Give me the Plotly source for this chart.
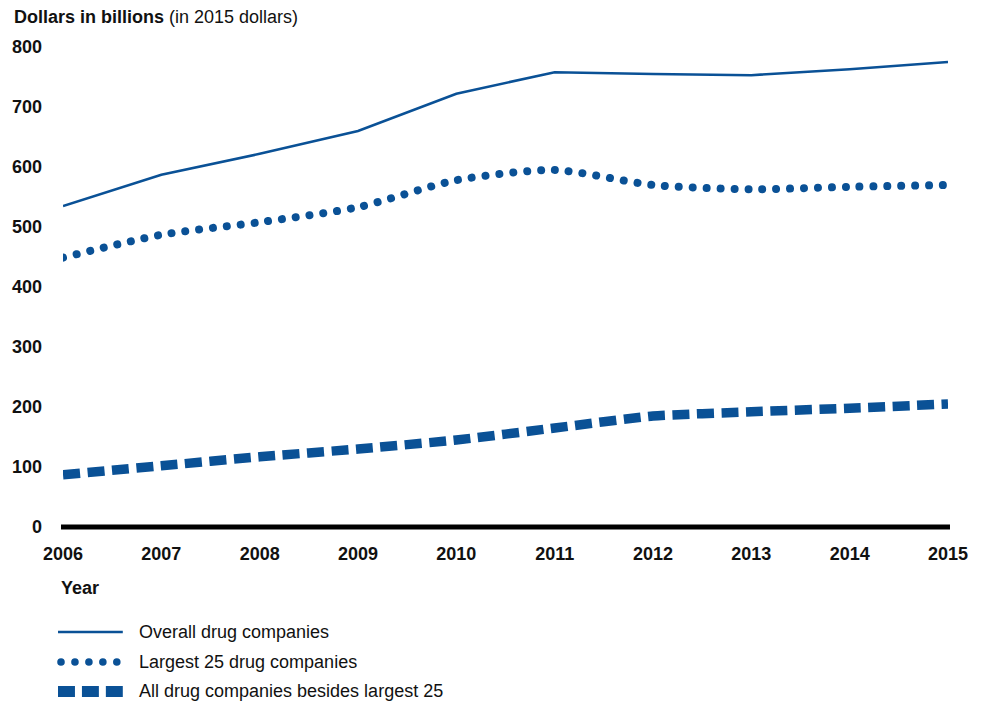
import plotly.graph_objects as go

# Revenue of drug companies, dollars in billions (2015 dollars)
years = [2006, 2007, 2008, 2009, 2010, 2011, 2012, 2013, 2014, 2015]
overall = [535, 587, 622, 660, 722, 758, 755, 753, 763, 775]
largest_25 = [449, 487, 508, 533, 578, 595, 570, 563, 567, 570]
all_others = [87, 102, 117, 130, 145, 165, 185, 192, 198, 205]

y_ticks = [0, 100, 200, 300, 400, 500, 600, 700, 800]
series_names = [
    "Overall drug companies",
    "Largest 25 drug companies",
    "All drug companies besides largest 25",
]

BLUE = "#0a5196"
FONT = "Liberation Sans, Arial, sans-serif"

W, H = 988, 704
ML, MR, MT, MB = 60, 40, 47, 177
PW, PH = W - ML - MR, H - MT - MB


def px_x(px):
    return (px - ML) / PW


def px_y(py):
    return (H - MB - py) / PH


fig = go.Figure()
fig.add_trace(go.Scatter(
    x=years, y=overall, mode="lines", name=series_names[0],
    line=dict(color=BLUE, width=2.6),
))
fig.add_trace(go.Scatter(
    x=years, y=largest_25, mode="lines", name=series_names[1],
    line=dict(color=BLUE, width=8, dash="0.01px,13.9px", shape="spline", smoothing=0.7),
))
fig.add_trace(go.Scatter(
    x=years, y=all_others, mode="lines", name=series_names[2],
    line=dict(color=BLUE, width=9.5, dash="17px,7.5px", shape="spline", smoothing=0.5),
))

shapes = []
# thick baseline along the bottom of the plot, running slightly past its edges
shapes.append(dict(type="line", xref="paper", yref="paper",
                   x0=px_x(58), x1=px_x(950), y0=0, y1=0,
                   line=dict(color="black", width=5)))
# legend glyphs
shapes.append(dict(type="line", xref="paper", yref="paper",
                   x0=px_x(55), x1=px_x(120), y0=px_y(632), y1=px_y(632),
                   line=dict(color=BLUE, width=2.6)))
for cx in [58, 72, 86, 100, 114]:
    shapes.append(dict(type="circle", xref="paper", yref="paper",
                       x0=px_x(cx - 3.8), x1=px_x(cx + 3.8),
                       y0=px_y(662 - 3.8), y1=px_y(662 + 3.8),
                       fillcolor=BLUE, line=dict(width=0)))
for x0, x1 in [(55, 72), (79, 96), (103, 120)]:
    shapes.append(dict(type="rect", xref="paper", yref="paper",
                       x0=px_x(x0), x1=px_x(x1), y0=px_y(686), y1=px_y(697),
                       fillcolor=BLUE, line=dict(width=0)))

annotations = [
    dict(text="<b>Dollars in billions</b> (in 2015 dollars)", xref="paper", yref="paper",
         x=px_x(9), y=px_y(17), xanchor="left", yanchor="middle", showarrow=False,
         font=dict(size=18, color="#111111", family=FONT)),
    dict(text="<b>Year</b>", xref="paper", yref="paper",
         x=px_x(56), y=px_y(588), xanchor="left", yanchor="middle", showarrow=False,
         font=dict(size=18, color="#111111", family=FONT)),
]
for name, py in zip(series_names, [632, 662, 691]):
    annotations.append(dict(text=name, xref="paper", yref="paper",
                            x=px_x(134), y=px_y(py), xanchor="left", yanchor="middle",
                            showarrow=False,
                            font=dict(size=18, color="#111111", family=FONT)))

fig.update_layout(
    width=W, height=H,
    margin=dict(l=ML, r=MR, t=MT, b=MB),
    paper_bgcolor="white", plot_bgcolor="white",
    showlegend=False,
    font=dict(family=FONT, size=18, color="#111111"),
    shapes=shapes,
    annotations=annotations,
    xaxis=dict(
        range=[2006, 2015], tickvals=years, ticktext=[f"<b>{y}</b>" for y in years],
        showgrid=False, zeroline=False, showline=False,
        ticks="", ticklabelstandoff=14, fixedrange=True,
    ),
    yaxis=dict(
        range=[0, 800], tickvals=y_ticks, ticktext=[f"<b>{v}</b>" for v in y_ticks],
        showgrid=False, zeroline=False, showline=False,
        ticks="", ticklabelstandoff=20, fixedrange=True,
    ),
)

# round line caps turn the short dashes of the middle series into dots
post = """
var gd = document.getElementById('{plot_id}');
function roundDots() {
  var traces = gd.querySelectorAll('.scatterlayer .trace');
  if (traces.length > 1) {
    traces[1].querySelectorAll('path.js-line').forEach(function (p) {
      p.style.strokeLinecap = 'round';
    });
  }
}
roundDots();
setTimeout(roundDots, 50);
gd.on('plotly_afterplot', roundDots);
"""

fig.write_html("out.html", post_script=post, config={"displayModeBar": False})
